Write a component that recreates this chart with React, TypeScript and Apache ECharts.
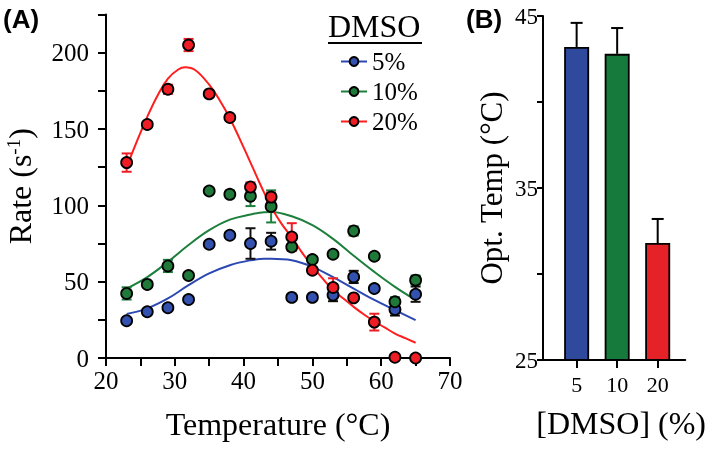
import React, { useEffect, useRef } from "react";
import * as echarts from "echarts";

// ---- Panel A data ----
const temps = [23, 26, 29, 32, 35, 38, 41, 44, 47, 50, 53, 56, 59, 62, 65];
const rate5 = [24.4, 30.3, 32.9, 38.3, 74.5, 80.4, 75, 76.5, 39.7, 39.7, 41.2, 53.1, 45.5, 31.8, 41.8];
const err5 = [0, 0, 0, 0, 0, 0, 10, 5.5, 0, 0, 4, 4, 0, 4, 5];
const rate10 = [42.3, 48.2, 60.3, 54, 109.4, 107.2, 106, 99.3, 72.7, 64.5, 68, 83.2, 66.7, 36.8, 51];
const err10 = [4, 0, 4, 0, 0, 2.5, 6.5, 10.5, 0, 0, 0, 3, 0, 3, 3];
const rate20 = [128, 153, 176, 205, 173, 157.5, 112, 105.4, 79.3, 57.5, 46.2, 39.4, 23.5, 0.5, 0];
const err20 = [6, 0, 3, 4, 0, 0, 3, 3, 9, 0, 6, 0, 5.5, 0, 0];

// fitted curves
const fitT20 = [23, 24.5, 26, 27.5, 29, 30.5, 31.5, 33, 35, 36.5, 38, 40, 41.4, 42.5, 44, 45.5, 47, 48.5, 50, 51.5, 53, 54.5, 56, 57.5, 59, 60.5, 62, 63.5, 65];
const fitR20 = [125, 142, 158, 172, 183, 189, 190.5, 188.5, 179, 169, 157, 138, 124, 113, 99, 88, 79, 69, 60, 52, 44.5, 39, 33.5, 28.5, 24, 20, 16, 13, 10];
const fitT = [23, 26, 29, 32, 35, 38, 41, 43, 44, 47, 50, 53, 56, 59, 62, 65];
const fitR10 = [45.5, 53, 63, 74, 83.7, 90.6, 94, 95.5, 95.6, 92.8, 87, 78, 67, 56.4, 46.6, 38];
const fitR5 = [28.8, 32.5, 39, 47.7, 55.4, 60.8, 64, 65, 65, 64, 59.7, 53, 45.5, 38, 31.4, 24.8];

// ---- Panel B data ----
const dmsoCats = ["5", "10", "20"];
const optTemp = [43.2, 42.8, 31.8];
const optErr = [1.4, 1.5, 1.4];

const legendNames = ["5%", "10%", "20%"];
const lineColors = ["#2c49b3", "#1d7f3c", "#ff1e1e"];
const dotColors = ["#3352b0", "#1f7a3a", "#ee1c24"];
const errColors = ["#111111", "#1d7f3c", "#ee1c24"];
const barColors = ["#2f4a9c", "#177a3d", "#e42227"];

const SERIF = "Liberation Serif";

export default function App() {
  const ref = useRef<HTMLDivElement>(null);
  useEffect(() => {
    document.body.style.margin = "0";
    const chart = echarts.init(ref.current!, null, { renderer: "svg" });
    const rates = [rate5, rate10, rate20];
    const errs = [err5, err10, err20];
    const fits = [
      fitT.map((t, i) => [t, fitR5[i]]),
      fitT.map((t, i) => [t, fitR10[i]]),
      fitT20.map((t, i) => [t, fitR20[i]]),
    ];
    const series: any[] = [];
    for (let k = 0; k < 3; k++) {
      series.push({
        name: legendNames[k],
        type: "line",
        xAxisIndex: 0,
        yAxisIndex: 0,
        data: fits[k],
        smooth: 0.4,
        symbol: "circle",
        showSymbol: false,
        symbolSize: 10,
        lineStyle: { color: lineColors[k], width: 2 },
        itemStyle: { color: dotColors[k], borderColor: "#000", borderWidth: 1.8 },
        z: 2,
      });
    }
    for (let k = 0; k < 3; k++) {
      series.push({
        name: "err" + k,
        type: "custom",
        xAxisIndex: 0,
        yAxisIndex: 0,
        data: temps.map((t, i) => [t, rates[k][i], errs[k][i]]),
        z: 3,
        renderItem: (params: any, api: any) => {
          const e = api.value(2);
          if (!e) return null;
          const x = api.value(0);
          const y = api.value(1);
          const top = api.coord([x, y + e]);
          const bot = api.coord([x, y - e]);
          const hw = 5;
          const st = { stroke: errColors[k], lineWidth: 2 };
          return {
            type: "group",
            children: [
              { type: "line", shape: { x1: top[0], y1: top[1], x2: bot[0], y2: bot[1] }, style: st },
              { type: "line", shape: { x1: top[0] - hw, y1: top[1], x2: top[0] + hw, y2: top[1] }, style: st },
              { type: "line", shape: { x1: bot[0] - hw, y1: bot[1], x2: bot[0] + hw, y2: bot[1] }, style: st },
            ],
          };
        },
      });
    }
    for (let k = 0; k < 3; k++) {
      series.push({
        name: "pts" + k,
        type: "scatter",
        xAxisIndex: 0,
        yAxisIndex: 0,
        data: temps.map((t, i) => [t, rates[k][i]]),
        symbolSize: 11,
        itemStyle: { color: dotColors[k], borderColor: "#000", borderWidth: 1.8, opacity: 1 },
        z: 4,
      });
    }
    // Panel B
    series.push({
      name: "bars",
      type: "bar",
      xAxisIndex: 1,
      yAxisIndex: 1,
      barWidth: 25,
      data: optTemp.map((v, i) => ({
        value: [i + 1, v],
        itemStyle: { color: barColors[i], borderColor: "#000", borderWidth: 1.8 },
      })),
      z: 2,
    });
    series.push({
      name: "barErr",
      type: "custom",
      xAxisIndex: 1,
      yAxisIndex: 1,
      data: optTemp.map((v, i) => [i + 1, v, optErr[i]]),
      z: 3,
      renderItem: (params: any, api: any) => {
        const x = api.value(0);
        const y = api.value(1);
        const e = api.value(2);
        const top = api.coord([x, y + e]);
        const base = api.coord([x, y]);
        const st = { stroke: "#000", lineWidth: 2 };
        return {
          type: "group",
          children: [
            { type: "line", shape: { x1: top[0], y1: top[1], x2: base[0], y2: base[1] }, style: st },
            { type: "line", shape: { x1: top[0] - 6, y1: top[1], x2: top[0] + 6, y2: top[1] }, style: st },
          ],
        };
      },
    });

    const axisLine = { lineStyle: { color: "#000", width: 2 } };
    const tick = (len: number) => ({ length: len, lineStyle: { color: "#000", width: 2 } });

    chart.setOption({
      animation: false,
      textStyle: { fontFamily: SERIF },
      grid: [
        { left: 106, top: 14.5, width: 344, height: 343.5 },
        { left: 543, top: 16, width: 144, height: 344 },
      ],
      xAxis: [
        {
          gridIndex: 0,
          type: "value",
          min: 20,
          max: 70,
          interval: 5,
          axisLine,
          axisTick: tick(8),
          splitLine: { show: false },
          axisLabel: {
            formatter: (v: number) => (v % 10 === 0 ? String(v) : ""),
            fontSize: 25,
            color: "#000",
            fontFamily: SERIF,
            margin: 10,
          },
          name: "Temperature (°C)",
          nameLocation: "middle",
          nameGap: 50,
          nameTextStyle: { fontSize: 32, color: "#000", fontFamily: SERIF },
        },
        {
          gridIndex: 1,
          type: "value",
          min: 0.17,
          max: 3.68,
          axisLine,
          axisTick: { ...tick(8), customValues: [1, 2, 3] },
          splitLine: { show: false },
          axisLabel: {
            customValues: [1, 2, 3],
            formatter: (v: number) => dmsoCats[Math.round(v) - 1] ?? "",
            fontSize: 22,
            color: "#000",
            fontFamily: SERIF,
            margin: 13,
          },
          name: "[DMSO] (%)",
          nameLocation: "middle",
          nameGap: 47,
          nameTextStyle: { fontSize: 32, color: "#000", fontFamily: SERIF, padding: [0, 0, 0, 14] },
        },
      ],
      yAxis: [
        {
          gridIndex: 0,
          type: "value",
          min: 0,
          max: 225,
          interval: 25,
          axisLine: { show: true, ...axisLine },
          axisTick: { show: true, ...tick(8) },
          splitLine: { show: false },
          axisLabel: {
            formatter: (v: number) => (v % 50 === 0 ? String(v) : ""),
            fontSize: 25,
            color: "#000",
            fontFamily: SERIF,
            margin: 17,
          },
          name: "{a|Rate (s}{b|-1}{a|)}",
          nameLocation: "middle",
          nameGap: 70,
          nameTextStyle: {
            color: "#000",
            rich: {
              a: { fontSize: 32, fontFamily: SERIF, color: "#000" },
              b: { fontSize: 19, fontFamily: SERIF, color: "#000", verticalAlign: "top" },
            },
          },
        },
        {
          gridIndex: 1,
          type: "value",
          min: 25,
          max: 45,
          interval: 5,
          axisLine: { show: true, ...axisLine },
          axisTick: { show: true, ...tick(6) },
          splitLine: { show: false },
          axisLabel: {
            formatter: (v: number) => ((v - 25) % 10 === 0 ? String(v) : ""),
            fontSize: 23,
            color: "#000",
            fontFamily: SERIF,
            margin: 5,
          },
          name: "Opt. Temp (°C)",
          nameLocation: "middle",
          nameGap: 36,
          nameTextStyle: { fontSize: 31, color: "#000", fontFamily: SERIF },
        },
      ],
      legend: {
        data: legendNames,
        orient: "vertical",
        left: 335,
        top: 44,
        itemWidth: 26,
        itemHeight: 11,
        itemGap: 5,
        textStyle: { fontSize: 25, color: "#000", fontFamily: SERIF },
        selectedMode: false,
      },
      graphic: [
        { type: "text", left: 3, top: 6, style: { text: "(A)", font: "bold 26px 'Liberation Sans'", fill: "#000" } },
        { type: "text", left: 466, top: 6, style: { text: "(B)", font: "bold 26px 'Liberation Sans'", fill: "#000" } },
        { type: "text", left: 328, top: 10, style: { text: "DMSO", font: "32px 'Liberation Serif'", fill: "#000" } },
        { type: "line", shape: { x1: 328, y1: 43, x2: 422, y2: 43 }, style: { stroke: "#000", lineWidth: 2 } },
      ],
      series,
    });
    return () => chart.dispose();
  }, []);
  return <div ref={ref} style={{ position: "fixed", left: 0, top: 0, width: 709, height: 452 }} />;
}
